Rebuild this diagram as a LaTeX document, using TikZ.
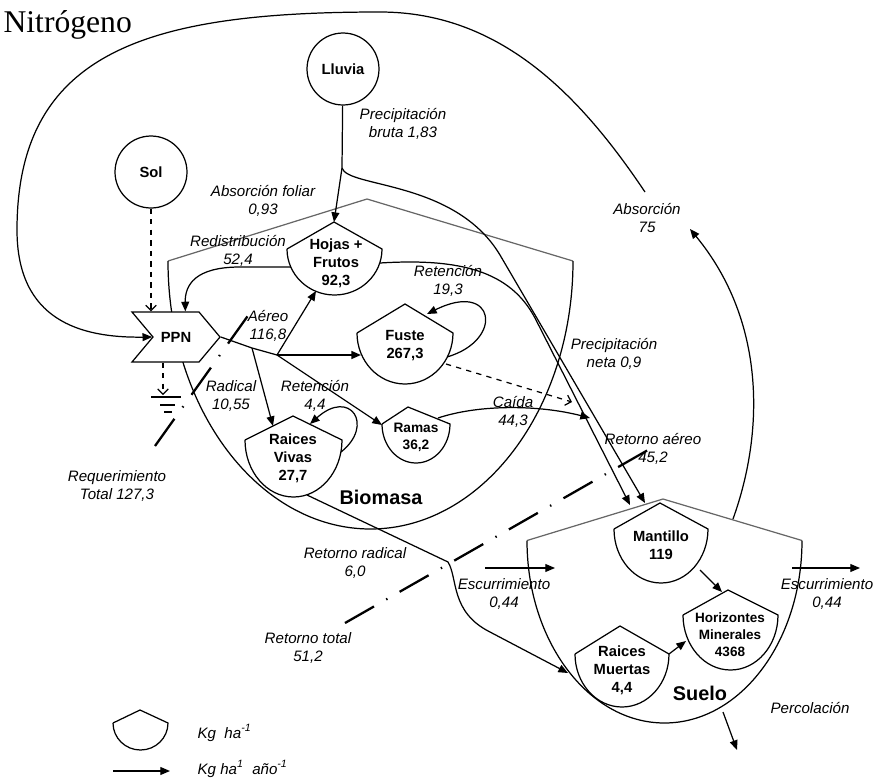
\documentclass[tikz,border=0pt]{standalone}
\usepackage{fontspec}
\setmainfont{Liberation Sans}
\newfontfamily\tiempos{Liberation Serif}
\usetikzlibrary{arrows.meta,shapes.symbols}

\begin{document}
\begin{tikzpicture}[x=0.02cm, y=0.02cm, line width=0.7pt]
\tikzstyle{every node}+=[inner sep=0pt]
\tikzstyle{flujo}=[-{Triangle[length=5.5pt,width=4.5pt]}]
\tikzstyle{energia}=[dashed, -{Straight Barb[length=3pt,width=6pt]}]
\tikzstyle{limite}=[line width=1.3pt, dash pattern=on 19pt off 8pt on 0.8pt off 8pt]
\tikzstyle{etiqueta}=[font=\fontsize{8.6}{10.2}\selectfont\itshape, align=center]
\tikzstyle{tanque}=[font=\fontsize{8.4}{10.2}\selectfont\bfseries, align=center]
\tikzstyle{fuente}=[draw, circle, minimum size=1.44cm, font=\fontsize{8.4}{10}\selectfont\bfseries]
\tikzstyle{sistema}=[font=\fontsize{11.3}{13}\selectfont\bfseries]
\useasboundingbox (0,0) rectangle (873,-778);
\node[anchor=base west, font=\tiempos\fontsize{18}{20}\selectfont] (titulo) at (3,-32) {Nitrógeno};
\draw [black!60] (168,-261) -- (367,-199) -- (573,-261);
\draw (573,-261) arc[start angle=0, end angle=-180, x radius=202.5, y radius=268];
\draw [black!60] (527,-540.5) -- (663,-499) -- (802,-540.5);
\draw (802,-540.5) arc[start angle=0, end angle=-180, x radius=137.5, y radius=182.5];
\draw (287,-249) -- (334,-222) coordinate (hojasN) -- (382,-249) arc[start angle=0, end angle=-180, x radius=47.5, y radius=46];
\node[tanque] (hojas) at (336,-263) {Hojas +\\Frutos\\92,3};
\draw (357,-333) -- (405,-304) -- (453,-333) arc[start angle=0, end angle=-180, x radius=48, y radius=51];
\node[tanque] (fuste) at (405,-346) {Fuste\\267,3};
\draw (245,-440) -- (293,-416) -- (342,-440) arc[start angle=0, end angle=-180, x radius=48.5, y radius=57];
\node[tanque] (vivas) at (293,-458) {Raices\\Vivas\\27,7};
\draw (382,-424) -- (408,-407) -- (450,-424) arc[start angle=0, end angle=-180, x radius=34, y radius=39];
\node[tanque, font=\fontsize{7.8}{9.8}\selectfont\bfseries] (ramas) at (416,-437) {Ramas\\36,2};
\draw (614,-529) -- (660,-503) -- (708,-529) arc[start angle=0, end angle=-180, x radius=47, y radius=54];
\node[tanque] (mantillo) at (661,-545) {Mantillo\\119};
\draw (683,-615) -- (728,-590) -- (778,-615) arc[start angle=0, end angle=-180, x radius=47.5, y radius=55];
\node[tanque, font=\fontsize{7.7}{9.6}\selectfont\bfseries] (horizontes) at (730,-635) {Horizontes\\Minerales\\4368};
\draw (575,-654) -- (620,-626) -- (669,-654) arc[start angle=0, end angle=-180, x radius=47, y radius=53];
\node[tanque] (muertas) at (622,-670) {Raices\\Muertas\\4,4};
\draw (113,-723) -- (140,-710) -- (168,-723) arc[start angle=0, end angle=-180, x radius=27.5, y radius=27];
\node[sistema] (biomasa) at (381,-497) {Biomasa};
\node[sistema] (suelo) at (700,-693) {Suelo};
\node[fuente] (lluvia) at (343,-69) {Lluvia};
\node[fuente] (sol) at (151,-172) {Sol};
\node[draw, fill=white, signal, signal from=west, signal to=east, signal pointer angle=100, minimum width=1.76cm, minimum height=1cm, font=\fontsize{8.4}{10}\selectfont\bfseries] (ppn) at (176,-337) {PPN};
\coordinate (lluviaramal) at (342,-168);
\coordinate (mantilloA) at (630,-505);
\coordinate (mantilloB) at (645,-503);
\coordinate (hojasE) at (380,-263);
\coordinate (hojasO) at (291,-267);
\coordinate (hojasS) at (316,-291);
\coordinate (radical) at (252,-348);
\coordinate (aereo) at (277,-355);
\coordinate (fusteO) at (361,-355);
\coordinate (fusteE) at (447,-357);
\coordinate (fusteT) at (427,-314);
\coordinate (fusteSE) at (446,-364);
\coordinate (caidaF) at (572,-402);
\coordinate (ramasO) at (382,-425);
\coordinate (ramasNE) at (438,-418);
\coordinate (caida) at (590,-418);
\coordinate (vivasN) at (273,-426);
\coordinate (vivasE) at (341,-452);
\coordinate (vivasT) at (310,-424);
\coordinate (vivasSE) at (307,-495);
\coordinate (muertasO) at (568,-673);
\coordinate (muertasE) at (669,-654);
\coordinate (horizontesO) at (686,-641);
\coordinate (mantilloSE) at (700,-570);
\coordinate (horizontesN) at (722,-592);
\coordinate (sumidero) at (163,-395);
\coordinate (escA) at (485,-568);
\coordinate (escB) at (555,-568);
\coordinate (escC) at (792,-568);
\coordinate (escD) at (860,-568);
\coordinate (percA) at (723,-712);
\coordinate (percB) at (737,-750);
\coordinate (sueloNE) at (733,-519);
\coordinate (absorcionA) at (690,-229);
\coordinate (absorcionB) at (645,-192);
\coordinate (reqA) at (155,-446);
\coordinate (reqB) at (252,-310);
\coordinate (retA) at (345,-623);
\coordinate (retB) at (655,-446);
\coordinate (leyA) at (113,-771);
\coordinate (leyB) at (170,-771);
\draw[flujo] (lluvia) -- (lluviaramal) -- (hojasN);
\draw[flujo] (lluviaramal) .. controls (348,-188) and (455,-180) .. (500,-255) -- (mantilloB);
\draw[flujo] (hojasE) .. controls (460,-258) and (510,-271) .. (535,-318) -- (mantilloA);
\draw[flujo] (hojasO) -- (240,-267) .. controls (195,-267) and (185,-285) .. (ppn.70);
\draw[energia] (sol) -- (sol |- ppn.north);
\draw[energia] (sumidero |- ppn.south) -- (sumidero);
\draw (151,-397) -- (181,-397);
\draw (160,-405) -- (175,-405);
\draw (164,-412) -- (172,-412);
\draw (ppn.east) -- (radical) -- (aereo);
\draw[flujo] (aereo) -- (hojasS);
\draw[flujo, line width=1pt] (aereo) -- (fusteO);
\draw[flujo] (aereo) -- (ramasO);
\draw[flujo] (radical) -- (vivasN);
\draw[flujo] (vivasE) .. controls (375,-425) and (350,-388) .. (vivasT);
\draw[flujo] (fusteE) .. controls (505,-340) and (495,-280) .. (fusteT);
\draw[energia] (fusteSE) -- (caidaF);
\draw[flujo] (ramasNE) .. controls (480,-404) and (540,-405) .. (caida);
\draw[flujo] (vivasSE) -- (448,-562) .. controls (458,-578) and (450,-612) .. (490,-632) -- (muertasO);
\draw[flujo] (muertasE) -- (horizontesO);
\draw[flujo] (mantilloSE) -- (horizontesN);
\draw[flujo] (escA) -- (escB);
\draw[flujo] (escC) -- (escD);
\draw[flujo] (percA) -- (percB);
\draw[flujo] (sueloNE) .. controls (765,-430) and (765,-320) .. (absorcionA);
\draw[flujo] (absorcionB) .. controls (580,-95) and (500,-12) .. (380,-12) .. controls (150,-12) and (17,-50) .. (17,-230) .. controls (17,-320) and (80,-338) .. (ppn.west);
\draw[limite] (reqA) -- (reqB);
\draw[limite] (retA) -- (retB);
\draw[flujo] (leyA) -- (leyB);
\node[etiqueta] (precbruta) at (403,-124) {Precipitación\\bruta 1,83};
\node[etiqueta] (foliar) at (263,-201) {Absorción foliar\\0,93};
\node[etiqueta] (redist) at (238,-251) {Redistribución\\52,4};
\node[etiqueta] (aereolab) at (268,-326) {Aéreo\\116,8};
\node[etiqueta] (radicallab) at (231,-396) {Radical\\10,55};
\node[etiqueta] (retvivas) at (315,-396) {Retención\\4,4};
\node[etiqueta] (retfuste) at (448,-281) {Retención\\19,3};
\node[etiqueta] (precneta) at (614,-354) {Precipitación\\neta 0,9};
\node[etiqueta] (caidalab) at (513,-412) {Caída\\44,3};
\node[etiqueta] (retaereo) at (653,-449) {Retorno aéreo\\45,2};
\node[etiqueta] (absorcion) at (647,-218) {Absorción\\75};
\node[etiqueta] (requerimiento) at (117,-486) {Requerimiento\\Total 127,3};
\node[etiqueta] (retradical) at (355,-563) {Retorno radical\\6,0};
\node[etiqueta] (rettotal) at (308,-648) {Retorno total\\51,2};
\node[etiqueta] (escizq) at (504,-594) {Escurrimiento\\0,44};
\node[etiqueta] (escder) at (827,-594) {Escurrimiento\\0,44};
\node[etiqueta] (percolacion) at (810,-708) {Percolación};
\node[etiqueta, anchor=west] (leytanque) at (197,-733) {Kg~~ha\textsuperscript{-1}};
\node[etiqueta, anchor=west] (leyflujo) at (197,-769) {Kg ha\textsuperscript{1}~~año\textsuperscript{-1}};
\end{tikzpicture}
\end{document}
